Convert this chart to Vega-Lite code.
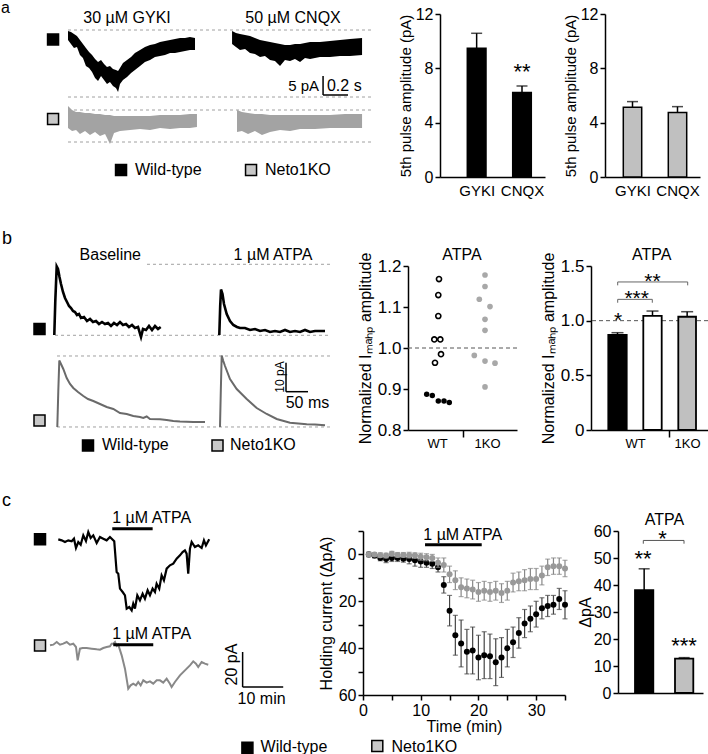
{
"$schema": "https://vega.github.io/schema/vega-lite/v6.json",
"background": "white",
"padding": {"left": 0, "top": -5, "right": 0, "bottom": 0},
"autosize": {"type": "pad"},
"config": {
  "font": "Liberation Sans",
  "view": {"stroke": null},
  "axis": {"domainColor": "black", "domainWidth": 1.5, "tickColor": "black", "tickWidth": 1.5, "tickSize": 5, "labelColor": "black", "titleColor": "black", "titleFontWeight": "normal", "grid": false, "labelFontSize": 15, "titleFontSize": 15, "labelPadding": 2, "labelFlush": false, "labelOverlap": false},
  "text": {"color": "black"}
},
"datasets": {
  "tcWT": [
    {"t":1,"m":0,"lo":-1,"hi":1},{"t":2,"m":0.5,"lo":-0.5,"hi":1.5},{"t":3,"m":1.5,"lo":0.3,"hi":2.7},{"t":4,"m":2,"lo":0.5,"hi":3.5},{"t":5,"m":1.5,"lo":0,"hi":3},{"t":6,"m":1.5,"lo":0,"hi":3},{"t":7,"m":1.8,"lo":0.3,"hi":3.3},{"t":8,"m":2,"lo":0,"hi":4},{"t":9,"m":2.5,"lo":0,"hi":5},{"t":10,"m":3,"lo":0.5,"hi":5.5},{"t":11,"m":3.5,"lo":1.5,"hi":5.5},{"t":12,"m":4,"lo":2,"hi":6},{"t":13,"m":5.5,"lo":3.5,"hi":7.5},{"t":14,"m":13,"lo":9.5,"hi":16.5},{"t":15,"m":24,"lo":17.5,"hi":30.5},{"t":16,"m":34.5,"lo":26,"hi":43},{"t":17,"m":38,"lo":28,"hi":48},{"t":18,"m":41.5,"lo":32,"hi":51},{"t":19,"m":41,"lo":31,"hi":51},{"t":20,"m":44,"lo":34.5,"hi":53.5},{"t":21,"m":43,"lo":33,"hi":53},{"t":22,"m":43.5,"lo":34,"hi":53},{"t":23,"m":46,"lo":36,"hi":56},{"t":24,"m":44,"lo":35.5,"hi":52.5},{"t":25,"m":40,"lo":32,"hi":48},{"t":26,"m":37.5,"lo":31,"hi":44},{"t":27,"m":33.5,"lo":27,"hi":40},{"t":28,"m":29.5,"lo":23.5,"hi":35.5},{"t":29,"m":27.5,"lo":22,"hi":33},{"t":30,"m":25.5,"lo":20,"hi":31},{"t":31,"m":23,"lo":18.5,"hi":27.5},{"t":32,"m":22,"lo":17.5,"hi":26.5},{"t":33,"m":21.5,"lo":17.5,"hi":25.5},{"t":34,"m":19,"lo":14.5,"hi":23.5},{"t":35,"m":21.5,"lo":15.5,"hi":27.5}
  ],
  "tcKO": [
    {"t":1,"m":0,"lo":-0.8,"hi":0.8},{"t":2,"m":0,"lo":-0.8,"hi":0.8},{"t":3,"m":0.3,"lo":-0.7,"hi":1.3},{"t":4,"m":0.5,"lo":-0.5,"hi":1.5},{"t":5,"m":-0.3,"lo":-1.3,"hi":0.7},{"t":6,"m":0.2,"lo":-0.8,"hi":1.2},{"t":7,"m":0.2,"lo":-0.8,"hi":1.2},{"t":8,"m":0.3,"lo":-0.9,"hi":1.5},{"t":9,"m":0.5,"lo":-0.7,"hi":1.7},{"t":10,"m":1,"lo":-0.5,"hi":2.5},{"t":11,"m":1.2,"lo":-0.3,"hi":2.7},{"t":12,"m":1.5,"lo":0,"hi":3},{"t":13,"m":3.5,"lo":1.5,"hi":5.5},{"t":14,"m":4.5,"lo":1.5,"hi":7.5},{"t":15,"m":8.5,"lo":5,"hi":12},{"t":16,"m":11,"lo":7,"hi":15},{"t":17,"m":14,"lo":10,"hi":18},{"t":18,"m":14.5,"lo":10.5,"hi":18.5},{"t":19,"m":15,"lo":11,"hi":19},{"t":20,"m":16,"lo":12,"hi":20},{"t":21,"m":15.5,"lo":11.5,"hi":19.5},{"t":22,"m":16,"lo":12,"hi":20},{"t":23,"m":15.5,"lo":11.5,"hi":19.5},{"t":24,"m":16.5,"lo":12.5,"hi":20.5},{"t":25,"m":15.5,"lo":11.5,"hi":19.5},{"t":26,"m":12,"lo":8,"hi":16},{"t":27,"m":11.5,"lo":7.5,"hi":15.5},{"t":28,"m":11,"lo":6.5,"hi":15.5},{"t":29,"m":10.5,"lo":6,"hi":15},{"t":30,"m":10.5,"lo":6,"hi":15},{"t":31,"m":9,"lo":5,"hi":13},{"t":32,"m":5.5,"lo":2,"hi":9},{"t":33,"m":5,"lo":1.5,"hi":8.5},{"t":34,"m":5,"lo":1.5,"hi":8.5},{"t":35,"m":6,"lo":2.5,"hi":9.5}
  ]
},
"spacing": 21,
"vconcat": [
{
  "hconcat": [
  {
    "width": 380, "height": 163,
    "encoding": {
      "x": {"field": "t", "type": "quantitative", "scale": {"domain": [-0.5231, 2.4], "nice": false, "zero": false}, "axis": null},
      "y": {"field": "i", "type": "quantitative", "scale": {"domain": [-36.75, 4], "nice": false, "zero": false}, "axis": null}
    },
    "layer": [
      {"data": {"values": [{"t": -0.508, "i": 8.75, "i2": -43.5}]}, "mark": {"type": "rule", "opacity": 0}, "encoding": {"y2": {"field": "i2"}}},
      {"data": {"values": [{"t": 0, "t2": 2.338, "i": 0}, {"t": 0, "t2": 2.338, "i": -16.75}, {"t": 0, "t2": 2.338, "i": -20}, {"t": 0, "t2": 2.338, "i": -28}]}, "mark": {"type": "rule", "color": "#a0a0a0", "strokeDash": [3, 3], "strokeWidth": 1}, "encoding": {"x2": {"field": "t2"}}},
      {"data": {"values": [
        {"s":"G","t":0,"i":-0.25,"i2":-2.5},{"s":"G","t":0.023,"i":-0.5,"i2":-3.5},{"s":"G","t":0.046,"i":-1,"i2":-4.5},{"s":"G","t":0.069,"i":-1.5,"i2":-4.25},{"s":"G","t":0.092,"i":-2.5,"i2":-6.25},{"s":"G","t":0.115,"i":-3.5,"i2":-7},{"s":"G","t":0.138,"i":-4.5,"i2":-9},{"s":"G","t":0.162,"i":-5.5,"i2":-9.5},{"s":"G","t":0.185,"i":-6.25,"i2":-10.5},{"s":"G","t":0.208,"i":-7.25,"i2":-12},{"s":"G","t":0.231,"i":-8,"i2":-12.75},{"s":"G","t":0.254,"i":-7.5,"i2":-11.5},{"s":"G","t":0.277,"i":-8.5,"i2":-12.5},{"s":"G","t":0.3,"i":-9.25,"i2":-13.5},{"s":"G","t":0.323,"i":-9,"i2":-13},{"s":"G","t":0.346,"i":-9.75,"i2":-14},{"s":"G","t":0.369,"i":-10,"i2":-14.5},{"s":"G","t":0.385,"i":-10.25,"i2":-15.5},{"s":"G","t":0.4,"i":-9.5,"i2":-13.5},{"s":"G","t":0.423,"i":-8.25,"i2":-12.5},{"s":"G","t":0.454,"i":-7.5,"i2":-11.75},{"s":"G","t":0.485,"i":-6.75,"i2":-10.75},{"s":"G","t":0.515,"i":-5.75,"i2":-10},{"s":"G","t":0.554,"i":-5,"i2":-9},{"s":"G","t":0.592,"i":-4.25,"i2":-8},{"s":"G","t":0.631,"i":-3.75,"i2":-7.5},{"s":"G","t":0.669,"i":-3.5,"i2":-6.75},{"s":"G","t":0.708,"i":-3,"i2":-6.5},{"s":"G","t":0.746,"i":-2.75,"i2":-6.25},{"s":"G","t":0.785,"i":-2.5,"i2":-5.75},{"s":"G","t":0.823,"i":-2.25,"i2":-5.75},{"s":"G","t":0.862,"i":-2,"i2":-5.5},{"s":"G","t":0.9,"i":-2,"i2":-5.25},{"s":"G","t":0.938,"i":-1.75,"i2":-5},{"s":"G","t":0.977,"i":-2,"i2":-5},
        {"s":"C","t":1.262,"i":-0.25,"i2":-3.5},{"s":"C","t":1.292,"i":-0.75,"i2":-4.25},{"s":"C","t":1.323,"i":-1,"i2":-5},{"s":"C","t":1.362,"i":-1.25,"i2":-4.75},{"s":"C","t":1.4,"i":-1.5,"i2":-5.75},{"s":"C","t":1.438,"i":-2,"i2":-6},{"s":"C","t":1.477,"i":-2.5,"i2":-6.75},{"s":"C","t":1.515,"i":-2.75,"i2":-6.5},{"s":"C","t":1.554,"i":-3,"i2":-7.5},{"s":"C","t":1.592,"i":-3.25,"i2":-7.75},{"s":"C","t":1.631,"i":-3.5,"i2":-9},{"s":"C","t":1.669,"i":-3.75,"i2":-7.5},{"s":"C","t":1.708,"i":-3.75,"i2":-7.75},{"s":"C","t":1.746,"i":-3.5,"i2":-7.25},{"s":"C","t":1.785,"i":-3.5,"i2":-8},{"s":"C","t":1.823,"i":-3.25,"i2":-7},{"s":"C","t":1.862,"i":-3,"i2":-7.25},{"s":"C","t":1.938,"i":-3,"i2":-6.75},{"s":"C","t":2.015,"i":-2.75,"i2":-6.75},{"s":"C","t":2.092,"i":-2.5,"i2":-6.5},{"s":"C","t":2.169,"i":-2.25,"i2":-6.5},{"s":"C","t":2.262,"i":-2,"i2":-6.25}
      ]}, "mark": {"type": "area", "color": "black"}, "encoding": {"y2": {"field": "i2"}, "detail": {"field": "s"}}},
      {"data": {"values": [
        {"s":"G","t":0,"i":-19,"i2":-24.5},{"s":"G","t":0.031,"i":-20,"i2":-25.25},{"s":"G","t":0.062,"i":-20.5,"i2":-25},{"s":"G","t":0.092,"i":-20.5,"i2":-26},{"s":"G","t":0.131,"i":-20.75,"i2":-25.25},{"s":"G","t":0.169,"i":-20.75,"i2":-26.25},{"s":"G","t":0.208,"i":-21,"i2":-25.5},{"s":"G","t":0.246,"i":-21,"i2":-26.5},{"s":"G","t":0.285,"i":-21.25,"i2":-26},{"s":"G","t":0.323,"i":-21.25,"i2":-28.5},{"s":"G","t":0.354,"i":-21.5,"i2":-25.75},{"s":"G","t":0.4,"i":-21.5,"i2":-25.25},{"s":"G","t":0.477,"i":-21.5,"i2":-25},{"s":"G","t":0.554,"i":-21.5,"i2":-24.75},{"s":"G","t":0.631,"i":-21.5,"i2":-25},{"s":"G","t":0.708,"i":-21.25,"i2":-24.5},{"s":"G","t":0.785,"i":-21.25,"i2":-24.75},{"s":"G","t":0.862,"i":-21.25,"i2":-24.5},{"s":"G","t":0.938,"i":-21,"i2":-24.5},{"s":"G","t":0.992,"i":-21,"i2":-24.25},
        {"s":"C","t":1.3,"i":-20,"i2":-25.5},{"s":"C","t":1.338,"i":-20.5,"i2":-25.25},{"s":"C","t":1.385,"i":-20.75,"i2":-26},{"s":"C","t":1.438,"i":-21,"i2":-25.25},{"s":"C","t":1.492,"i":-21,"i2":-26.25},{"s":"C","t":1.554,"i":-21.25,"i2":-25.5},{"s":"C","t":1.631,"i":-21.25,"i2":-25},{"s":"C","t":1.708,"i":-21.25,"i2":-25.25},{"s":"C","t":1.785,"i":-21.25,"i2":-24.75},{"s":"C","t":1.9,"i":-21.25,"i2":-24.75},{"s":"C","t":2.015,"i":-21.25,"i2":-24.5},{"s":"C","t":2.131,"i":-21,"i2":-24.5},{"s":"C","t":2.262,"i":-21,"i2":-24.5}
      ]}, "mark": {"type": "area", "color": "#a3a3a3"}, "encoding": {"y2": {"field": "i2"}, "detail": {"field": "s"}}},
      {"data": {"values": [{"t": -0.115, "i": -2.375, "f": "black"}, {"t": -0.115, "i": -22.25, "f": "#c8c8c8"}, {"t": 0.408, "i": -35, "f": "black"}, {"t": 1.408, "i": -35, "f": "#c8c8c8"}]}, "mark": {"type": "point", "shape": "square", "filled": true, "size": 121, "stroke": "black", "strokeWidth": 1.5, "opacity": 1}, "encoding": {"fill": {"field": "f", "type": "nominal", "scale": null}}},
      {"data": {"values": [{"t": 0.454, "i": 3, "txt": "30 µM GYKI"}, {"t": 1.731, "i": 3, "txt": "50 µM CNQX"}]}, "mark": {"type": "text", "fontSize": 16, "align": "center", "baseline": "middle", "color": "black"}, "encoding": {"text": {"field": "txt"}}},
      {"data": {"values": [{"t": 1.962, "t2": 1.962, "i": -11.5, "i2": -16.25}, {"t": 1.962, "t2": 2.154, "i": -16.25, "i2": -16.25}]}, "mark": {"type": "rule", "color": "black", "strokeWidth": 1.5}, "encoding": {"x2": {"field": "t2"}, "y2": {"field": "i2"}}},
      {"data": {"values": [{"t": 1.931, "i": -14, "txt": "5 pA"}]}, "mark": {"type": "text", "fontSize": 15, "align": "right", "baseline": "middle", "color": "black"}, "encoding": {"text": {"field": "txt"}}},
      {"data": {"values": [{"t": 1.992, "i": -14, "txt": "0.2 s"}, {"t": 0.515, "i": -35, "txt": "Wild-type"}, {"t": 1.515, "i": -35, "txt": "Neto1KO"}]}, "mark": {"type": "text", "fontSize": 16, "align": "left", "baseline": "middle", "color": "black"}, "encoding": {"text": {"field": "txt"}}},
      {"data": {"values": [{"t": -0.515, "i": 4.25, "txt": "a"}]}, "mark": {"type": "text", "fontSize": 16, "align": "left", "baseline": "alphabetic", "color": "black"}, "encoding": {"text": {"field": "txt"}}}
    ]
  },
  {
    "width": 105, "height": 163,
    "data": {"values": [{"x1": 2.73, "x2": 4.6, "xc": 3.665, "m": 9.47, "e": 10.58}, {"x1": 7.27, "x2": 9.13, "xc": 8.2, "m": 6.23, "e": 6.7}]},
    "layer": [
      {"mark": {"type": "rect", "fill": "black", "stroke": "black", "strokeWidth": 1.5},
       "encoding": {
         "x": {"field": "x1", "type": "quantitative", "scale": {"domain": [0, 10.5], "nice": false, "zero": false}, "axis": {"values": [3.665, 8.2], "labelExpr": "datum.value < 6 ? 'GYKI' : 'CNQX'", "ticks": false, "tickSize": 0, "labelPadding": 6, "title": null, "labelFontSize": 15}},
         "x2": {"field": "x2"},
         "y": {"field": "m", "type": "quantitative", "scale": {"domain": [0, 12], "nice": false, "zero": false}, "axis": {"values": [0, 4, 8, 12], "title": "5th pulse amplitude (pA)", "titlePadding": 2, "labelFontSize": 16, "titleFontSize": 15}},
         "y2": {"datum": 0}}},
      {"mark": {"type": "rule", "color": "black", "strokeWidth": 1.5}, "encoding": {"x": {"field": "xc", "type": "quantitative"}, "y": {"field": "m", "type": "quantitative"}, "y2": {"field": "e"}}},
      {"mark": {"type": "tick", "orient": "horizontal", "size": 11, "thickness": 1.5, "color": "black"}, "encoding": {"x": {"field": "xc", "type": "quantitative"}, "y": {"field": "e", "type": "quantitative"}}},
      {"data": {"values": [{"xc": 8.2, "m": 7.75, "s": "**"}]}, "mark": {"type": "text", "fontSize": 22, "align": "center", "baseline": "middle", "color": "black"}, "encoding": {"x": {"field": "xc", "type": "quantitative"}, "y": {"field": "m", "type": "quantitative"}, "text": {"field": "s"}}}
    ]
  },
  {
    "width": 95, "height": 163,
    "data": {"values": [{"x1": 1.83, "x2": 3.67, "xc": 2.75, "m": 5.13, "e": 5.55}, {"x1": 6.33, "x2": 8.17, "xc": 7.25, "m": 4.74, "e": 5.18}]},
    "layer": [
      {"mark": {"type": "rect", "fill": "#c0c0c0", "stroke": "black", "strokeWidth": 1.5},
       "encoding": {
         "x": {"field": "x1", "type": "quantitative", "scale": {"domain": [0, 9.5], "nice": false, "zero": false}, "axis": {"values": [2.75, 7.25], "labelExpr": "datum.value < 5 ? 'GYKI' : 'CNQX'", "ticks": false, "tickSize": 0, "labelPadding": 6, "title": null, "labelFontSize": 15}},
         "x2": {"field": "x2"},
         "y": {"field": "m", "type": "quantitative", "scale": {"domain": [0, 12], "nice": false, "zero": false}, "axis": {"values": [0, 4, 8, 12], "title": "5th pulse amplitude (pA)", "titlePadding": 2, "labelFontSize": 16, "titleFontSize": 15}},
         "y2": {"datum": 0}}},
      {"mark": {"type": "rule", "color": "black", "strokeWidth": 1.5}, "encoding": {"x": {"field": "xc", "type": "quantitative"}, "y": {"field": "m", "type": "quantitative"}, "y2": {"field": "e"}}},
      {"mark": {"type": "tick", "orient": "horizontal", "size": 11, "thickness": 1.5, "color": "black"}, "encoding": {"x": {"field": "xc", "type": "quantitative"}, "y": {"field": "e", "type": "quantitative"}}}
    ]
  }
  ],
  "spacing": 60,
  "bounds": "flush"
},
{
  "hconcat": [
  {
    "width": 334, "height": 164,
    "encoding": {
      "x": {"field": "t", "type": "quantitative", "scale": {"domain": [-122.73, 636.36], "nice": false, "zero": false}, "axis": null},
      "y": {"field": "i", "type": "quantitative", "scale": {"domain": [-32.76, 23.79], "nice": false, "zero": false}, "axis": null}
    },
    "layer": [
      {"data": {"values": [{"t": -118.18, "i": 37.59, "i2": -44.48}]}, "mark": {"type": "rule", "opacity": 0}, "encoding": {"y2": {"field": "i2"}}},
      {"data": {"values": [{"t": 211.36, "t2": 627.27, "i": 24.38}, {"t": 2.27, "t2": 627.27, "i": -0.1}, {"t": 6.82, "t2": 627.27, "i": -7.24}, {"t": 6.82, "t2": 627.27, "i": -31.72}]}, "mark": {"type": "rule", "color": "#a0a0a0", "strokeDash": [3, 3], "strokeWidth": 1}, "encoding": {"x2": {"field": "t2"}}},
      {"data": {"values": [
        {"s":"B","t":0.68,"i":0},{"s":"B","t":2.95,"i":11.72},{"s":"B","t":6.14,"i":23.62},{"s":"B","t":9.09,"i":22.76},{"s":"B","t":12.5,"i":20},{"s":"B","t":15.91,"i":17.59},{"s":"B","t":20.45,"i":14.83},{"s":"B","t":25,"i":12.76},{"s":"B","t":29.55,"i":11.38},{"s":"B","t":34.09,"i":10},{"s":"B","t":38.64,"i":9.31},{"s":"B","t":43.18,"i":8.28},{"s":"B","t":47.73,"i":7.93},{"s":"B","t":52.27,"i":6.9},{"s":"B","t":56.82,"i":7.24},{"s":"B","t":61.36,"i":5.86},{"s":"B","t":68.18,"i":6.21},{"s":"B","t":75,"i":4.83},{"s":"B","t":81.82,"i":5.52},{"s":"B","t":88.64,"i":4.48},{"s":"B","t":95.45,"i":4.83},{"s":"B","t":102.27,"i":3.79},{"s":"B","t":109.09,"i":4.48},{"s":"B","t":115.91,"i":3.79},{"s":"B","t":122.73,"i":4.14},{"s":"B","t":129.55,"i":3.1},{"s":"B","t":136.36,"i":4.14},{"s":"B","t":143.18,"i":3.45},{"s":"B","t":150,"i":4.48},{"s":"B","t":156.82,"i":3.45},{"s":"B","t":163.64,"i":3.79},{"s":"B","t":170.45,"i":2.76},{"s":"B","t":177.27,"i":3.45},{"s":"B","t":184.09,"i":2.41},{"s":"B","t":190.91,"i":2.76},{"s":"B","t":197.73,"i":-0.69},{"s":"B","t":202.27,"i":2.07},{"s":"B","t":209.09,"i":1.72},{"s":"B","t":215.91,"i":3.1},{"s":"B","t":222.73,"i":1.72},{"s":"B","t":229.55,"i":3.1},{"s":"B","t":236.36,"i":2.07},{"s":"B","t":242.5,"i":2.76},
        {"s":"A","t":375.68,"i":0},{"s":"A","t":377.73,"i":10},{"s":"A","t":379.55,"i":15.69},{"s":"A","t":382.95,"i":14.14},{"s":"A","t":386.36,"i":10.69},{"s":"A","t":392.5,"i":7.24},{"s":"A","t":400,"i":4.83},{"s":"A","t":407.5,"i":3.45},{"s":"A","t":415.91,"i":2.76},{"s":"A","t":422.73,"i":2.41},{"s":"A","t":434.09,"i":2.41},{"s":"A","t":445.45,"i":1.72},{"s":"A","t":456.82,"i":2.07},{"s":"A","t":468.18,"i":1.38},{"s":"A","t":479.55,"i":1.72},{"s":"A","t":490.91,"i":1.03},{"s":"A","t":502.27,"i":1.38},{"s":"A","t":513.64,"i":1.03},{"s":"A","t":525,"i":1.72},{"s":"A","t":536.36,"i":1.03},{"s":"A","t":547.73,"i":1.38},{"s":"A","t":559.09,"i":1.03},{"s":"A","t":570.45,"i":1.72},{"s":"A","t":581.82,"i":1.03},{"s":"A","t":593.18,"i":1.38},{"s":"A","t":604.55,"i":1.38},{"s":"A","t":615.91,"i":1.38}
      ]}, "mark": {"type": "line", "color": "black", "strokeWidth": 2.6}, "encoding": {"detail": {"field": "s"}}},
      {"data": {"values": [
        {"s":"B","t":7.5,"i":-31.72},{"s":"B","t":9.77,"i":-19.31},{"s":"B","t":12.05,"i":-8.79},{"s":"B","t":15.91,"i":-10},{"s":"B","t":21.14,"i":-11.72},{"s":"B","t":28.86,"i":-14.83},{"s":"B","t":36.36,"i":-16.9},{"s":"B","t":43.86,"i":-18.28},{"s":"B","t":54.55,"i":-19.66},{"s":"B","t":66.59,"i":-21.03},{"s":"B","t":77.27,"i":-22.07},{"s":"B","t":89.32,"i":-22.76},{"s":"B","t":104.55,"i":-23.79},{"s":"B","t":119.77,"i":-24.83},{"s":"B","t":134.77,"i":-25.52},{"s":"B","t":150,"i":-26.9},{"s":"B","t":165.23,"i":-27.24},{"s":"B","t":180.23,"i":-27.93},{"s":"B","t":195.45,"i":-28.28},{"s":"B","t":202.95,"i":-28.62},{"s":"B","t":210.68,"i":-28.1},{"s":"B","t":218.18,"i":-28.97},{"s":"B","t":240.91,"i":-29.07},{"s":"B","t":256.14,"i":-29.31},{"s":"B","t":271.14,"i":-29.66},{"s":"B","t":286.36,"i":-29.83},{"s":"B","t":301.59,"i":-29.9},{"s":"B","t":316.59,"i":-30},{"s":"B","t":331.82,"i":-30},{"s":"B","t":343.18,"i":-30},
        {"s":"A","t":377.27,"i":-31.72},{"s":"A","t":379.09,"i":-19.31},{"s":"A","t":381.14,"i":-7.07},{"s":"A","t":384.77,"i":-8.97},{"s":"A","t":388.64,"i":-10.69},{"s":"A","t":400,"i":-15.17},{"s":"A","t":415.23,"i":-18.62},{"s":"A","t":437.95,"i":-22.07},{"s":"A","t":460.68,"i":-25.17},{"s":"A","t":483.41,"i":-27.24},{"s":"A","t":506.14,"i":-28.97},{"s":"A","t":536.36,"i":-30.24},{"s":"A","t":574.32,"i":-30.79},{"s":"A","t":593.18,"i":-30.86},{"s":"A","t":615.91,"i":-31.14}
      ]}, "mark": {"type": "line", "color": "#6a6a6a", "strokeWidth": 2}, "encoding": {"detail": {"field": "s"}}},
      {"data": {"values": [{"t": -32.95, "i": 2.07, "f": "black"}, {"t": -32.95, "i": -29.48, "f": "#c8c8c8"}, {"t": 77.27, "i": -38.1, "f": "black"}, {"t": 371.59, "i": -38.1, "f": "#c8c8c8"}]}, "mark": {"type": "point", "shape": "square", "filled": true, "size": 121, "stroke": "black", "strokeWidth": 1.5, "opacity": 1}, "encoding": {"fill": {"field": "f", "type": "nominal", "scale": null}}},
      {"data": {"values": [{"t": 127.95, "i": 27.59, "txt": "Baseline"}, {"t": 497.73, "i": 27.59, "txt": "1 µM ATPA"}, {"t": 576.14, "i": -23.45, "txt": "50 ms"}, {"t": 927.3, "i": 27.59, "txt": "ATPA"}, {"t": 1358.4, "i": 27.59, "txt": "ATPA"}]}, "mark": {"type": "text", "fontSize": 16, "align": "center", "baseline": "middle", "color": "black"}, "encoding": {"text": {"field": "txt"}}},
      {"data": {"values": [{"t": 527.27, "t2": 527.27, "i": -9.55, "i2": -19.55}, {"t": 527.27, "t2": 577.27, "i": -19.55, "i2": -19.55}]}, "mark": {"type": "rule", "color": "black", "strokeWidth": 1.5}, "encoding": {"x2": {"field": "t2"}, "y2": {"field": "i2"}}},
      {"data": {"values": [{"t": 513.64, "i": -14.48, "txt": "10 pA"}]}, "mark": {"type": "text", "fontSize": 12, "align": "center", "baseline": "middle", "angle": 270, "color": "black"}, "encoding": {"text": {"field": "txt"}}},
      {"data": {"values": [{"t": 109.09, "i": -38.1, "txt": "Wild-type"}, {"t": 400, "i": -38.1, "txt": "Neto1KO"}]}, "mark": {"type": "text", "fontSize": 16, "align": "left", "baseline": "middle", "color": "black"}, "encoding": {"text": {"field": "txt"}}},
      {"data": {"values": [{"t": -118.18, "i": 31.38, "txt": "b"}]}, "mark": {"type": "text", "fontSize": 18, "align": "left", "baseline": "alphabetic", "color": "black"}, "encoding": {"text": {"field": "txt"}}}
    ]
  },
  {
    "width": 109, "height": 164,
    "layer": [
      {"data": {"values": [{"v": 1}]}, "mark": {"type": "rule", "color": "#555555", "strokeDash": [4, 3], "strokeWidth": 1},
       "encoding": {"y": {"field": "v", "type": "quantitative", "scale": {"domain": [0.8, 1.2], "nice": false, "zero": false}, "axis": {"values": [0.8, 0.9, 1.0, 1.1, 1.2], "format": ".1f", "title": "Normalized Iₘₐₕₚ amplitude", "titlePadding": 4, "labelFontSize": 17, "titleFontSize": 16}}}},
      {"data": {"values": [{"x": 1.87, "v": 0.887}, {"x": 2.43, "v": 0.884}, {"x": 3.03, "v": 0.871}, {"x": 3.6, "v": 0.871}, {"x": 4.13, "v": 0.867}]}, "mark": {"type": "circle", "size": 30, "color": "black", "opacity": 1},
       "encoding": {"x": {"field": "x", "type": "quantitative", "scale": {"domain": [0, 10.9], "nice": false, "zero": false}, "axis": {"values": [2.9, 5.5, 7.9], "labelExpr": "datum.value == 5.5 ? '' : (datum.value < 5 ? 'WT' : '1KO')", "tickOpacity": {"condition": {"test": "datum.value == 5.5", "value": 1}, "value": 0}, "tickSize": 7, "labelPadding": 0, "labelFontSize": 13, "title": null}}, "y": {"field": "v", "type": "quantitative"}}},
      {"data": {"values": [{"x": 3.03, "v": 1.078}, {"x": 2.63, "v": 1.021}, {"x": 3.23, "v": 1.021}, {"x": 3.3, "v": 0.985}, {"x": 2.7, "v": 0.964}, {"x": 3.1, "v": 1.168}, {"x": 3.03, "v": 1.129}]}, "mark": {"type": "point", "shape": "circle", "filled": false, "size": 26, "stroke": "black", "strokeWidth": 1.6, "opacity": 1},
       "encoding": {"x": {"field": "x", "type": "quantitative"}, "y": {"field": "v", "type": "quantitative"}}},
      {"data": {"values": [{"x": 7.7, "v": 1.178}, {"x": 7.7, "v": 1.15}, {"x": 7.13, "v": 1.119}, {"x": 8.2, "v": 1.101}, {"x": 7.7, "v": 1.07}, {"x": 7.7, "v": 1.043}, {"x": 6.63, "v": 0.982}, {"x": 7.7, "v": 0.968}, {"x": 8.7, "v": 0.963}, {"x": 7.7, "v": 0.905}]}, "mark": {"type": "circle", "size": 32, "color": "#a8a8a8", "opacity": 1},
       "encoding": {"x": {"field": "x", "type": "quantitative"}, "y": {"field": "v", "type": "quantitative"}}}
    ]
  },
  {
    "width": 117, "height": 164,
    "layer": [
      {"data": {"values": [{"v": 1}]}, "mark": {"type": "rule", "color": "#555555", "strokeDash": [4, 3], "strokeWidth": 1},
       "encoding": {"y": {"field": "v", "type": "quantitative", "scale": {"domain": [0, 1.5], "nice": false, "zero": false}, "axis": {"values": [0, 0.5, 1.0, 1.5], "labelExpr": "datum.value == 0 ? '0' : format(datum.value, '.1f')", "title": "Normalized Iₘₐₕₚ amplitude", "titlePadding": 4, "labelFontSize": 17, "titleFontSize": 16}}}},
      {"data": {"values": [{"x1": 1.73, "x2": 3.57, "m": 0.869, "f": "black"}, {"x1": 5.23, "x2": 7.07, "m": 1.043, "f": "white"}, {"x1": 8.73, "x2": 10.5, "m": 1.036, "f": "#c0c0c0"}]}, "mark": {"type": "rect", "stroke": "black", "strokeWidth": 1.8},
       "encoding": {"x": {"field": "x1", "type": "quantitative", "scale": {"domain": [0, 11.7], "nice": false, "zero": false}, "axis": {"values": [4.4, 7.8, 9.6], "labelExpr": "datum.value == 7.8 ? '' : (datum.value < 6 ? 'WT' : '1KO')", "tickOpacity": {"condition": {"test": "datum.value == 7.8", "value": 1}, "value": 0}, "tickSize": 7, "labelPadding": 0, "labelFontSize": 13, "title": null}}, "x2": {"field": "x2"}, "y": {"field": "m", "type": "quantitative"}, "y2": {"datum": 0}, "fill": {"field": "f", "type": "nominal", "scale": null}}},
      {"data": {"values": [{"xc": 2.65, "m": 0.869, "e": 0.89}, {"xc": 6.15, "m": 1.043, "e": 1.088}, {"xc": 9.615, "m": 1.036, "e": 1.082}]}, "mark": {"type": "rule", "color": "black", "strokeWidth": 1.5}, "encoding": {"x": {"field": "xc", "type": "quantitative"}, "y": {"field": "m", "type": "quantitative"}, "y2": {"field": "e"}}},
      {"data": {"values": [{"xc": 2.65, "e": 0.89}, {"xc": 6.15, "e": 1.088}, {"xc": 9.615, "e": 1.082}]}, "mark": {"type": "tick", "orient": "horizontal", "size": 12, "thickness": 1.5, "color": "black"}, "encoding": {"x": {"field": "xc", "type": "quantitative"}, "y": {"field": "e", "type": "quantitative"}}},
      {"data": {"values": [{"x": 2.67, "x2": 6.13, "y": 1.195, "y2": 1.195}, {"x": 2.67, "x2": 2.67, "y": 1.195, "y2": 1.164}, {"x": 6.13, "x2": 6.13, "y": 1.195, "y2": 1.164}, {"x": 2.67, "x2": 9.67, "y": 1.354, "y2": 1.354}, {"x": 2.67, "x2": 2.67, "y": 1.354, "y2": 1.323}, {"x": 9.67, "x2": 9.67, "y": 1.354, "y2": 1.323}]}, "mark": {"type": "rule", "color": "#666666", "strokeWidth": 1},
       "encoding": {"x": {"field": "x", "type": "quantitative"}, "x2": {"field": "x2"}, "y": {"field": "y", "type": "quantitative"}, "y2": {"field": "y2"}}},
      {"data": {"values": [{"x": 2.7, "y": 1.001, "s": "*"}, {"x": 4.57, "y": 1.198, "s": "***"}, {"x": 6.15, "y": 1.354, "s": "**"}]}, "mark": {"type": "text", "fontSize": 21, "align": "center", "baseline": "middle", "color": "black"},
       "encoding": {"x": {"field": "x", "type": "quantitative"}, "y": {"field": "y", "type": "quantitative"}, "text": {"field": "s"}}}
    ]
  }
  ],
  "spacing": 74,
  "bounds": "flush"
},
{
  "hconcat": [
  {
    "width": 310, "height": 164,
    "encoding": {
      "x": {"field": "t", "type": "quantitative", "scale": {"domain": [-14.36, 62.02], "nice": false, "zero": false}, "axis": null},
      "y": {"field": "i", "type": "quantitative", "scale": {"domain": [-89.14, 4.571], "nice": false, "zero": false}, "axis": null}
    },
    "layer": [
      {"data": {"values": [{"t": -13.87, "i": 30.29, "i2": -120}]}, "mark": {"type": "rule", "opacity": 0}, "encoding": {"y2": {"field": "i2"}}},
      {"data": {"values": [
        {"t":0,"i":-0.2},{"t":0.83,"i":-0.76},{"t":1.65,"i":-1.71},{"t":2.46,"i":-0.76},{"t":3.3,"i":-1.33},{"t":3.87,"i":0.19},{"t":4.36,"i":-5.14},{"t":4.93,"i":-1.71},{"t":5.52,"i":-3.24},{"t":6.16,"i":2.1},{"t":6.82,"i":-1.14},{"t":7.39,"i":4},{"t":7.98,"i":0.57},{"t":8.62,"i":2.1},{"t":9.46,"i":-2.29},{"t":10.27,"i":1.14},{"t":11.08,"i":0.19},{"t":11.92,"i":-0.76},{"t":12.73,"i":1.14},{"t":13.79,"i":-1.33},{"t":14.38,"i":-18.86},{"t":14.78,"i":-19.81},{"t":15.2,"i":-28.38},{"t":15.86,"i":-30.29},{"t":16.43,"i":-32.19},{"t":16.85,"i":-39.81},{"t":17.49,"i":-38.86},{"t":18.08,"i":-40.76},{"t":18.47,"i":-36.95},{"t":18.89,"i":-39.81},{"t":19.47,"i":-32.19},{"t":20.12,"i":-35.05},{"t":20.78,"i":-31.24},{"t":21.35,"i":-34.1},{"t":22.01,"i":-29.33},{"t":22.59,"i":-32.19},{"t":23.24,"i":-28.38},{"t":23.82,"i":-30.29},{"t":24.23,"i":-25.52},{"t":24.88,"i":-28.38},{"t":25.46,"i":-20.76},{"t":26.03,"i":-23.62},{"t":26.7,"i":-16.95},{"t":27.51,"i":-15.05},{"t":28.33,"i":-14.1},{"t":29.16,"i":-11.24},{"t":29.98,"i":-9.33},{"t":30.63,"i":-7.43},{"t":31.2,"i":-6.48},{"t":31.62,"i":-8.38},{"t":32.02,"i":-19.81},{"t":32.44,"i":-5.52},{"t":32.86,"i":-1.71},{"t":33.67,"i":-4.57},{"t":34.48,"i":-3.62},{"t":35.32,"i":-5.14},{"t":35.89,"i":-0.76},{"t":36.38,"i":-3.62},{"t":37.19,"i":-0.19}
      ]}, "mark": {"type": "line", "color": "black", "strokeWidth": 2.2}},
      {"data": {"values": [
        {"t":-2.04,"i":-60.76},{"t":-1.23,"i":-60.38},{"t":-0.39,"i":-58.86},{"t":0.42,"i":-60.38},{"t":1.23,"i":-59.81},{"t":2.07,"i":-58.86},{"t":2.88,"i":-60.38},{"t":3.69,"i":-59.81},{"t":4.36,"i":-61.71},{"t":4.78,"i":-69.33},{"t":5.34,"i":-62.67},{"t":6,"i":-62.29},{"t":6.99,"i":-62.29},{"t":8.23,"i":-62.67},{"t":9.46,"i":-63.05},{"t":10.27,"i":-63.24},{"t":11.08,"i":-62.29},{"t":11.92,"i":-61.71},{"t":12.73,"i":-61.33},{"t":13.15,"i":-59.81},{"t":13.55,"i":-59.81},{"t":13.97,"i":-58.86},{"t":14.38,"i":-61.14},{"t":14.78,"i":-60.38},{"t":15.62,"i":-66.48},{"t":16.43,"i":-74.1},{"t":17.24,"i":-85.52},{"t":17.83,"i":-83.62},{"t":18.47,"i":-82.67},{"t":19.14,"i":-83.62},{"t":19.7,"i":-81.71},{"t":20.3,"i":-83.62},{"t":20.94,"i":-80.76},{"t":21.77,"i":-82.1},{"t":22.59,"i":-81.33},{"t":23.4,"i":-82.67},{"t":24.24,"i":-80.76},{"t":25.05,"i":-80.76},{"t":25.86,"i":-82.1},{"t":26.7,"i":-79.81},{"t":27.51,"i":-82.67},{"t":27.93,"i":-84.57},{"t":28.74,"i":-81.71},{"t":29.98,"i":-77.9},{"t":31.21,"i":-75.05},{"t":32.44,"i":-72.19},{"t":33.25,"i":-69.9},{"t":33.92,"i":-71.24},{"t":34.48,"i":-73.14},{"t":35.32,"i":-70.29},{"t":36.13,"i":-71.24},{"t":36.95,"i":-71.81}
      ]}, "mark": {"type": "line", "color": "#888888", "strokeWidth": 2}},
      {"data": {"values": [{"t": 13.3, "t2": 23.25, "i": 5.89}, {"t": 13.55, "t2": 23.4, "i": -60.4}]}, "mark": {"type": "rule", "color": "black", "strokeWidth": 3}, "encoding": {"x2": {"field": "t2"}}},
      {"data": {"values": [{"t": 23.0, "i": 12.0, "txt": "1 µM ATPA"}, {"t": 23.0, "i": -54.29, "txt": "1 µM ATPA"}, {"t": 50.1, "i": -91.3, "txt": "10 min"}]}, "mark": {"type": "text", "fontSize": 16, "align": "center", "baseline": "middle", "color": "black"}, "encoding": {"text": {"field": "txt"}}},
      {"data": {"values": [{"t": 45.42, "t2": 45.42, "i": -64.57, "i2": -84.57}, {"t": 45.42, "t2": 55.42, "i": -84.57, "i2": -84.57}]}, "mark": {"type": "rule", "color": "black", "strokeWidth": 1.5}, "encoding": {"x2": {"field": "t2"}, "y2": {"field": "i2"}}},
      {"data": {"values": [{"t": 42.8, "i": -71.7, "txt": "20 pA"}]}, "mark": {"type": "text", "fontSize": 16, "align": "center", "baseline": "middle", "angle": 270, "color": "black"}, "encoding": {"text": {"field": "txt"}}},
      {"data": {"values": [{"t": -4.5, "i": -0.1, "f": "black"}, {"t": -4.5, "i": -60.8, "f": "#c8c8c8"}, {"t": 46.6, "i": -119.3, "f": "black"}, {"t": 78.6, "i": -118.3, "f": "#c8c8c8"}]}, "mark": {"type": "point", "shape": "square", "filled": true, "size": 121, "stroke": "black", "strokeWidth": 1.5, "opacity": 1}, "encoding": {"fill": {"field": "f", "type": "nominal", "scale": null}}},
      {"data": {"values": [{"t": 49.85, "i": -118.9, "txt": "Wild-type"}, {"t": 82.1, "i": -118.9, "txt": "Neto1KO"}]}, "mark": {"type": "text", "fontSize": 16, "align": "left", "baseline": "middle", "color": "black"}, "encoding": {"text": {"field": "txt"}}},
      {"data": {"values": [{"t": -13.87, "i": 18.86, "txt": "c"}]}, "mark": {"type": "text", "fontSize": 18, "align": "left", "baseline": "alphabetic", "color": "black"}, "encoding": {"text": {"field": "txt"}}}
    ]
  },
  {
    "width": 202, "height": 164,
    "resolve": {"axis": {"x": "independent", "y": "independent"}},
    "layer": [
      {"data": {"name": "tcWT"}, "mark": {"type": "rule", "color": "#444444", "strokeWidth": 1.2},
       "encoding": {
         "x": {"field": "t", "type": "quantitative", "scale": {"domain": [0, 35], "nice": false, "zero": false}, "axis": {"orient": "bottom", "values": [0, 10, 20, 30], "title": "Time (min)", "labelFontSize": 16, "titleFontSize": 16, "titlePadding": 0}},
         "y": {"field": "lo", "type": "quantitative", "scale": {"domain": [-10, 60], "reverse": true, "nice": false, "zero": false}, "axis": {"orient": "left", "values": [0, 20, 40, 60], "title": "Holding current (ΔpA)", "labelFontSize": 16, "titleFontSize": 16, "titlePadding": 4}},
         "y2": {"field": "hi"}}},
      {"data": {"name": "tcWT"}, "mark": {"type": "tick", "orient": "horizontal", "size": 5, "thickness": 1.2, "color": "#444444"},
       "encoding": {
         "x": {"field": "t", "type": "quantitative", "axis": {"orient": "bottom", "values": [5, 15, 25, 35], "labels": false, "title": null, "domain": false}},
         "y": {"field": "lo", "type": "quantitative", "axis": {"orient": "left", "values": [-10, 10, 30, 50], "labels": false, "title": null, "domain": false}}}},
      {"data": {"name": "tcWT"}, "mark": {"type": "tick", "orient": "horizontal", "size": 5, "thickness": 1.2, "color": "#444444"}, "encoding": {"x": {"field": "t", "type": "quantitative", "axis": null}, "y": {"field": "hi", "type": "quantitative", "axis": null}}},
      {"data": {"name": "tcWT"}, "mark": {"type": "circle", "size": 36, "color": "black", "opacity": 1}, "encoding": {"x": {"field": "t", "type": "quantitative", "axis": null}, "y": {"field": "m", "type": "quantitative", "axis": null}}},
      {"data": {"name": "tcKO"}, "mark": {"type": "rule", "color": "#888888", "strokeWidth": 1.2}, "encoding": {"x": {"field": "t", "type": "quantitative", "axis": null}, "y": {"field": "lo", "type": "quantitative", "axis": null}, "y2": {"field": "hi"}}},
      {"data": {"name": "tcKO"}, "mark": {"type": "tick", "orient": "horizontal", "size": 5, "thickness": 1.2, "color": "#888888"}, "encoding": {"x": {"field": "t", "type": "quantitative", "axis": null}, "y": {"field": "lo", "type": "quantitative", "axis": null}}},
      {"data": {"name": "tcKO"}, "mark": {"type": "tick", "orient": "horizontal", "size": 5, "thickness": 1.2, "color": "#888888"}, "encoding": {"x": {"field": "t", "type": "quantitative", "axis": null}, "y": {"field": "hi", "type": "quantitative", "axis": null}}},
      {"data": {"name": "tcKO"}, "mark": {"type": "circle", "size": 36, "color": "#999999", "opacity": 1}, "encoding": {"x": {"field": "t", "type": "quantitative", "axis": null}, "y": {"field": "m", "type": "quantitative", "axis": null}}},
      {"data": {"values": [{"t": 10.75, "t2": 20.57, "y": -4.1}]}, "mark": {"type": "rule", "color": "black", "strokeWidth": 3}, "encoding": {"x": {"field": "t", "type": "quantitative", "axis": null}, "x2": {"field": "t2"}, "y": {"field": "y", "type": "quantitative", "axis": null}}},
      {"data": {"values": [{"t": 17.28, "y": -8.3, "s": "1 µM ATPA"}]}, "mark": {"type": "text", "fontSize": 16, "align": "center", "baseline": "middle", "color": "black"}, "encoding": {"x": {"field": "t", "type": "quantitative", "axis": null}, "y": {"field": "y", "type": "quantitative", "axis": null}, "text": {"field": "s"}}}
    ]
  },
  {
    "width": 85, "height": 162,
    "resolve": {"axis": {"y": "independent"}},
    "layer": [
      {"data": {"values": [{"x1": 1.7, "x2": 3.53, "m": 38.1, "f": "black"}, {"x1": 5.7, "x2": 7.53, "m": 12.7, "f": "#c0c0c0"}]}, "mark": {"type": "rect", "stroke": "black", "strokeWidth": 1.8},
       "encoding": {"x": {"field": "x1", "type": "quantitative", "scale": {"domain": [0, 8.5], "nice": false, "zero": false}, "axis": {"labels": false, "ticks": false, "title": null}}, "x2": {"field": "x2"},
        "y": {"field": "m", "type": "quantitative", "scale": {"domain": [0, 60], "nice": false, "zero": false}, "axis": {"orient": "left", "values": [0, 20, 40, 60], "title": "ΔpA", "titlePadding": 0, "labelFontSize": 16, "titleFontSize": 16}}, "y2": {"datum": 0}, "fill": {"field": "f", "type": "nominal", "scale": null}}},
      {"data": {"values": [{"xc": 2.615, "m": 38.1, "e": 46}, {"xc": 6.615, "m": 12.7, "e": 13.1}]}, "mark": {"type": "rule", "color": "black", "strokeWidth": 1.5},
       "encoding": {"x": {"field": "xc", "type": "quantitative"}, "y": {"field": "m", "type": "quantitative", "axis": {"orient": "left", "values": [10, 30, 50], "title": null, "domain": false, "labelFontSize": 16}}, "y2": {"field": "e"}}},
      {"data": {"values": [{"xc": 2.615, "e": 46}, {"xc": 6.615, "e": 13.1}]}, "mark": {"type": "tick", "orient": "horizontal", "size": 11, "thickness": 1.5, "color": "black"},
       "encoding": {"x": {"field": "xc", "type": "quantitative"}, "y": {"field": "e", "type": "quantitative", "axis": null}}},
      {"data": {"values": [{"x": 2.53, "x2": 6.6, "y": 56.5, "y2": 56.5}, {"x": 2.53, "x2": 2.53, "y": 56.5, "y2": 55.3}, {"x": 6.6, "x2": 6.6, "y": 56.5, "y2": 55.3}]}, "mark": {"type": "rule", "color": "#555555", "strokeWidth": 1},
       "encoding": {"x": {"field": "x", "type": "quantitative"}, "x2": {"field": "x2"}, "y": {"field": "y", "type": "quantitative", "axis": null}, "y2": {"field": "y2"}}},
      {"data": {"values": [{"x": 2.5, "y": 49.8, "s": "**"}, {"x": 4.45, "y": 56.9, "s": "*"}, {"x": 6.6, "y": 17.3, "s": "***"}]}, "mark": {"type": "text", "fontSize": 22, "align": "center", "baseline": "middle", "color": "black"},
       "encoding": {"x": {"field": "x", "type": "quantitative"}, "y": {"field": "y", "type": "quantitative", "axis": null}, "text": {"field": "s"}}},
      {"data": {"values": [{"x": 4.65, "y": 64.2, "s": "ATPA"}]}, "mark": {"type": "text", "fontSize": 16, "align": "center", "baseline": "middle", "color": "black"},
       "encoding": {"x": {"field": "x", "type": "quantitative"}, "y": {"field": "y", "type": "quantitative", "axis": null}, "text": {"field": "s"}}}
    ]
  }
  ],
  "spacing": 53,
  "bounds": "flush"
}
]
}
